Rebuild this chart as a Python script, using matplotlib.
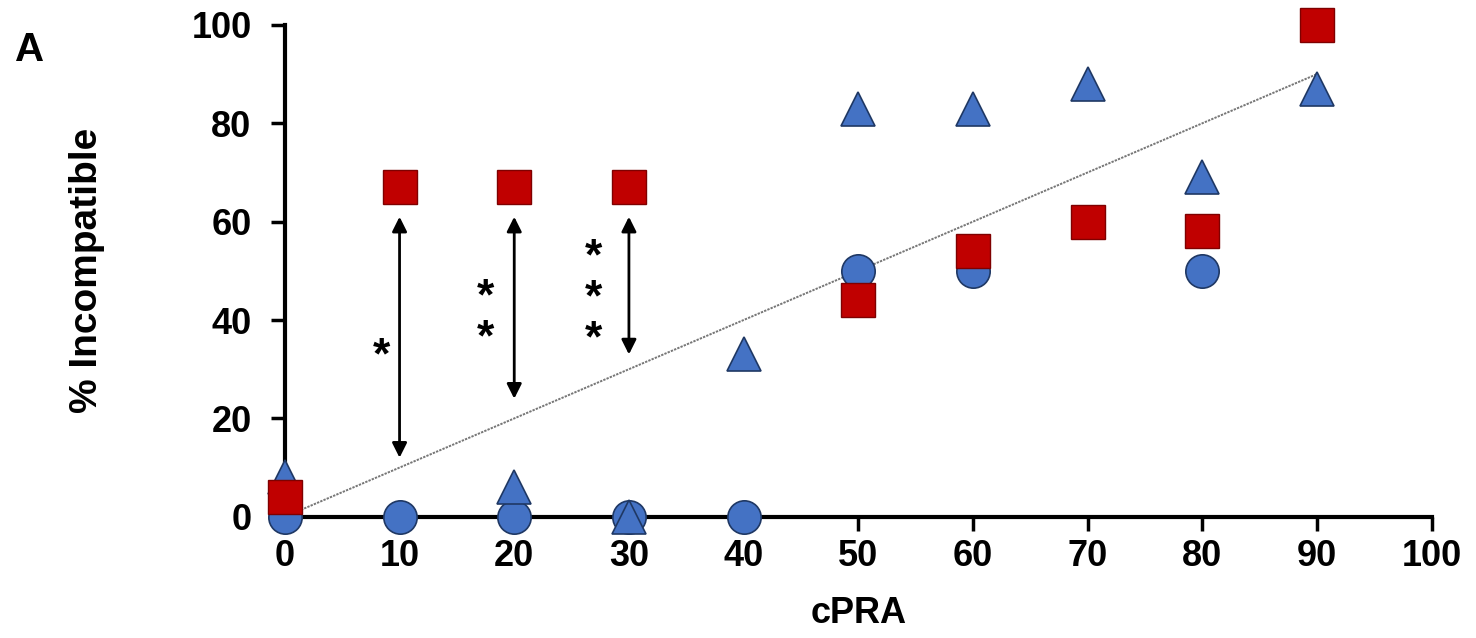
import matplotlib
matplotlib.use('Agg')
import matplotlib.pyplot as plt
import numpy as np

# data
cpra_tri = [0, 20, 30, 40, 50, 60, 70, 80, 90]
pct_tri = [8, 6, 0, 33, 83, 83, 88, 69, 87]

cpra_circ = [0, 10, 20, 30, 40, 50, 60, 80]
pct_circ = [0, 0, 0, 0, 0, 50, 50, 50]

cpra_sq = [0, 10, 20, 30, 50, 60, 70, 80, 90]
pct_sq = [4, 67, 67, 67, 44, 54, 60, 58, 100]

# significance arrows: x, top, bottom, number of stars
arrow_x = [10, 20, 30]
arrow_top = [61, 61, 61]
arrow_bottom = [12, 24, 33]
stars = [1, 2, 3]
star_x = [8.45, 17.5, 26.9]
star_y0 = [32.5, 36.2, 36.0]

blue = '#4472C4'
red = '#C00000'

plt.rcParams['font.family'] = ['Liberation Sans', 'DejaVu Sans']
plt.rcParams['font.weight'] = 'bold'

fig = plt.figure(figsize=(14.76, 6.38), dpi=100)
ax = fig.add_axes([0.193, 0.19, 0.777, 0.771])

ax.plot([0, 90], [0, 90], linestyle=(0, (1.2, 0.6)), color='#777777', lw=1.4, zorder=2)

ax.plot(cpra_circ, pct_circ, 'o', ms=24, mfc=blue, mec='#1F3864', mew=1.2,
        clip_on=False, zorder=3)
ax.plot(cpra_tri, pct_tri, '^', ms=24, mfc=blue, mec='#1F3864', mew=1.2,
        clip_on=False, zorder=4)
ax.plot(cpra_sq, pct_sq, 's', ms=25, mfc=red, mec='#7F0000', mew=1.0,
        clip_on=False, zorder=5)

for x, top, bot, n, sx, sy in zip(arrow_x, arrow_top, arrow_bottom, stars, star_x, star_y0):
  ax.annotate('', xy=(x, bot), xytext=(x, top),
              arrowprops=dict(arrowstyle='<|-|>', color='black', lw=2,
                              mutation_scale=22, shrinkA=0, shrinkB=0))
  # stars stacked to the left of each arrow
  for k in range(n):
    ax.text(sx, sy + 8.3 * k, '*', fontsize=32, fontweight='bold',
            ha='center', va='center')

ax.set_xlim(0, 100)
ax.set_ylim(0, 100)
ax.set_xticks(np.arange(0, 101, 10))
ax.set_yticks(np.arange(0, 101, 20))

for side in ['top', 'right']:
  ax.spines[side].set_visible(False)
for side in ['left', 'bottom']:
  ax.spines[side].set_linewidth(3)

ax.tick_params(axis='both', direction='out', length=10, width=2.5, labelsize=26, pad=6)
ax.tick_params(axis='y', pad=14)
for lab in ax.get_xticklabels() + ax.get_yticklabels():
  lab.set_fontweight('bold')

ax.set_xlabel('cPRA', fontsize=26, fontweight='bold', labelpad=16)
ax.set_ylabel('% Incompatible', fontsize=28, fontweight='bold', labelpad=62)

fig.text(0.01, 0.905, 'A', fontsize=29, fontweight='bold')

fig.savefig('out.png', dpi=100)
